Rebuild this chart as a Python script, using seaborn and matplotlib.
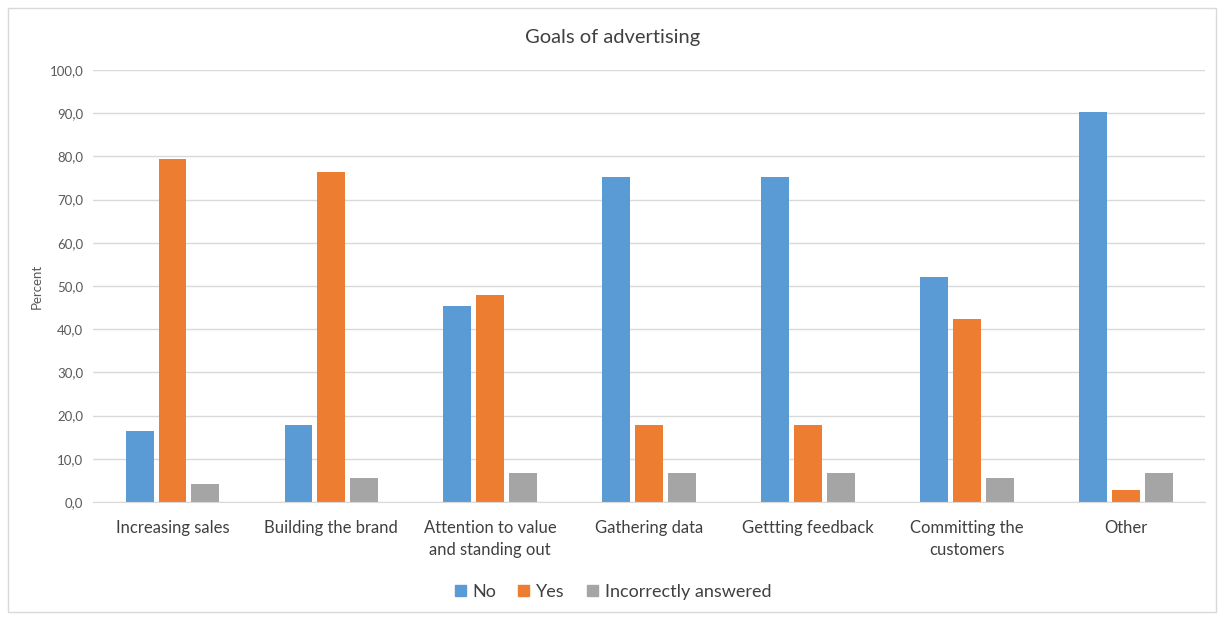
import pandas as pd
import seaborn as sns
import matplotlib.pyplot as plt
from matplotlib.patches import Rectangle
from matplotlib.ticker import FuncFormatter

categories = ["Increasing sales", "Building the brand", "Attention to value\nand standing out",
              "Gathering data", "Gettting feedback", "Committing the\ncustomers", "Other"]
no_vals = [16.4, 17.8, 45.3, 75.3, 75.3, 52.0, 90.2]
yes_vals = [79.3, 76.4, 47.9, 17.8, 17.8, 42.4, 2.7]
incorrect_vals = [4.2, 5.6, 6.8, 6.8, 6.8, 5.6, 6.8]
series = ["No", "Yes", "Incorrectly answered"]
colors = ["#5B9BD5", "#ED7D31", "#A5A5A5"]

rows = []
for name, vals in zip(series, [no_vals, yes_vals, incorrect_vals]):
    for cat, v in zip(categories, vals):
        rows.append({"goal": cat, "answer": name, "percent": v})
df = pd.DataFrame(rows)

sns.set_style("white")
plt.rcParams['font.family'] = ['Lato', 'DejaVu Sans']

fig = plt.figure(figsize=(12.26, 6.17), dpi=100)
ax = fig.add_axes([0.0759, 0.1864, 0.9071, 0.7001])

sns.barplot(data=df, x="goal", y="percent", hue="answer", palette=colors, saturation=1,
            width=0.62, gap=0.15, linewidth=0, ax=ax, legend=False)

ax.set_ylim(0, 100)
ax.set_xlim(-0.5, 6.5)
ax.set_yticks(range(0, 101, 10))
ax.yaxis.set_major_formatter(FuncFormatter(lambda v, p: f"{v:.1f}".replace(".", ",")))
ax.yaxis.grid(True, color="#D9D9D9", linewidth=1)
ax.set_axisbelow(True)
for s in ["top", "right", "left"]:
    ax.spines[s].set_visible(False)
ax.spines["bottom"].set_color("#D9D9D9")
ax.tick_params(axis="y", length=0, labelsize=9.5, labelcolor="#595959", pad=7)
ax.tick_params(axis="x", length=0, labelsize=12, labelcolor="#404040", pad=13)
for lbl in ax.get_xticklabels():
    lbl.set_verticalalignment("top")
    lbl.set_linespacing(1.45)
ax.set_xlabel("")
ax.set_ylabel("Percent", fontsize=9.5, color="#595959", labelpad=5)

fig.text(0.5, 1 - 38 / 617, "Goals of advertising", ha="center", va="center",
         fontsize=14.5, color="#404040")

handles = [Rectangle((0, 0), 1, 1, color=c) for c in colors]
fig.legend(handles, series, loc="center", bbox_to_anchor=(0.5, 1 - 592 / 617), ncol=3,
           frameon=False, fontsize=13, handlelength=0.6, handleheight=0.6,
           handletextpad=0.4, columnspacing=1.2, labelcolor="#404040")

fig.patches.append(Rectangle((8 / 1226, 5 / 617), 1208 / 1226, 604 / 617, transform=fig.transFigure,
                             fill=False, edgecolor="#D9D9D9", linewidth=1))

fig.savefig("out.png", dpi=100)
